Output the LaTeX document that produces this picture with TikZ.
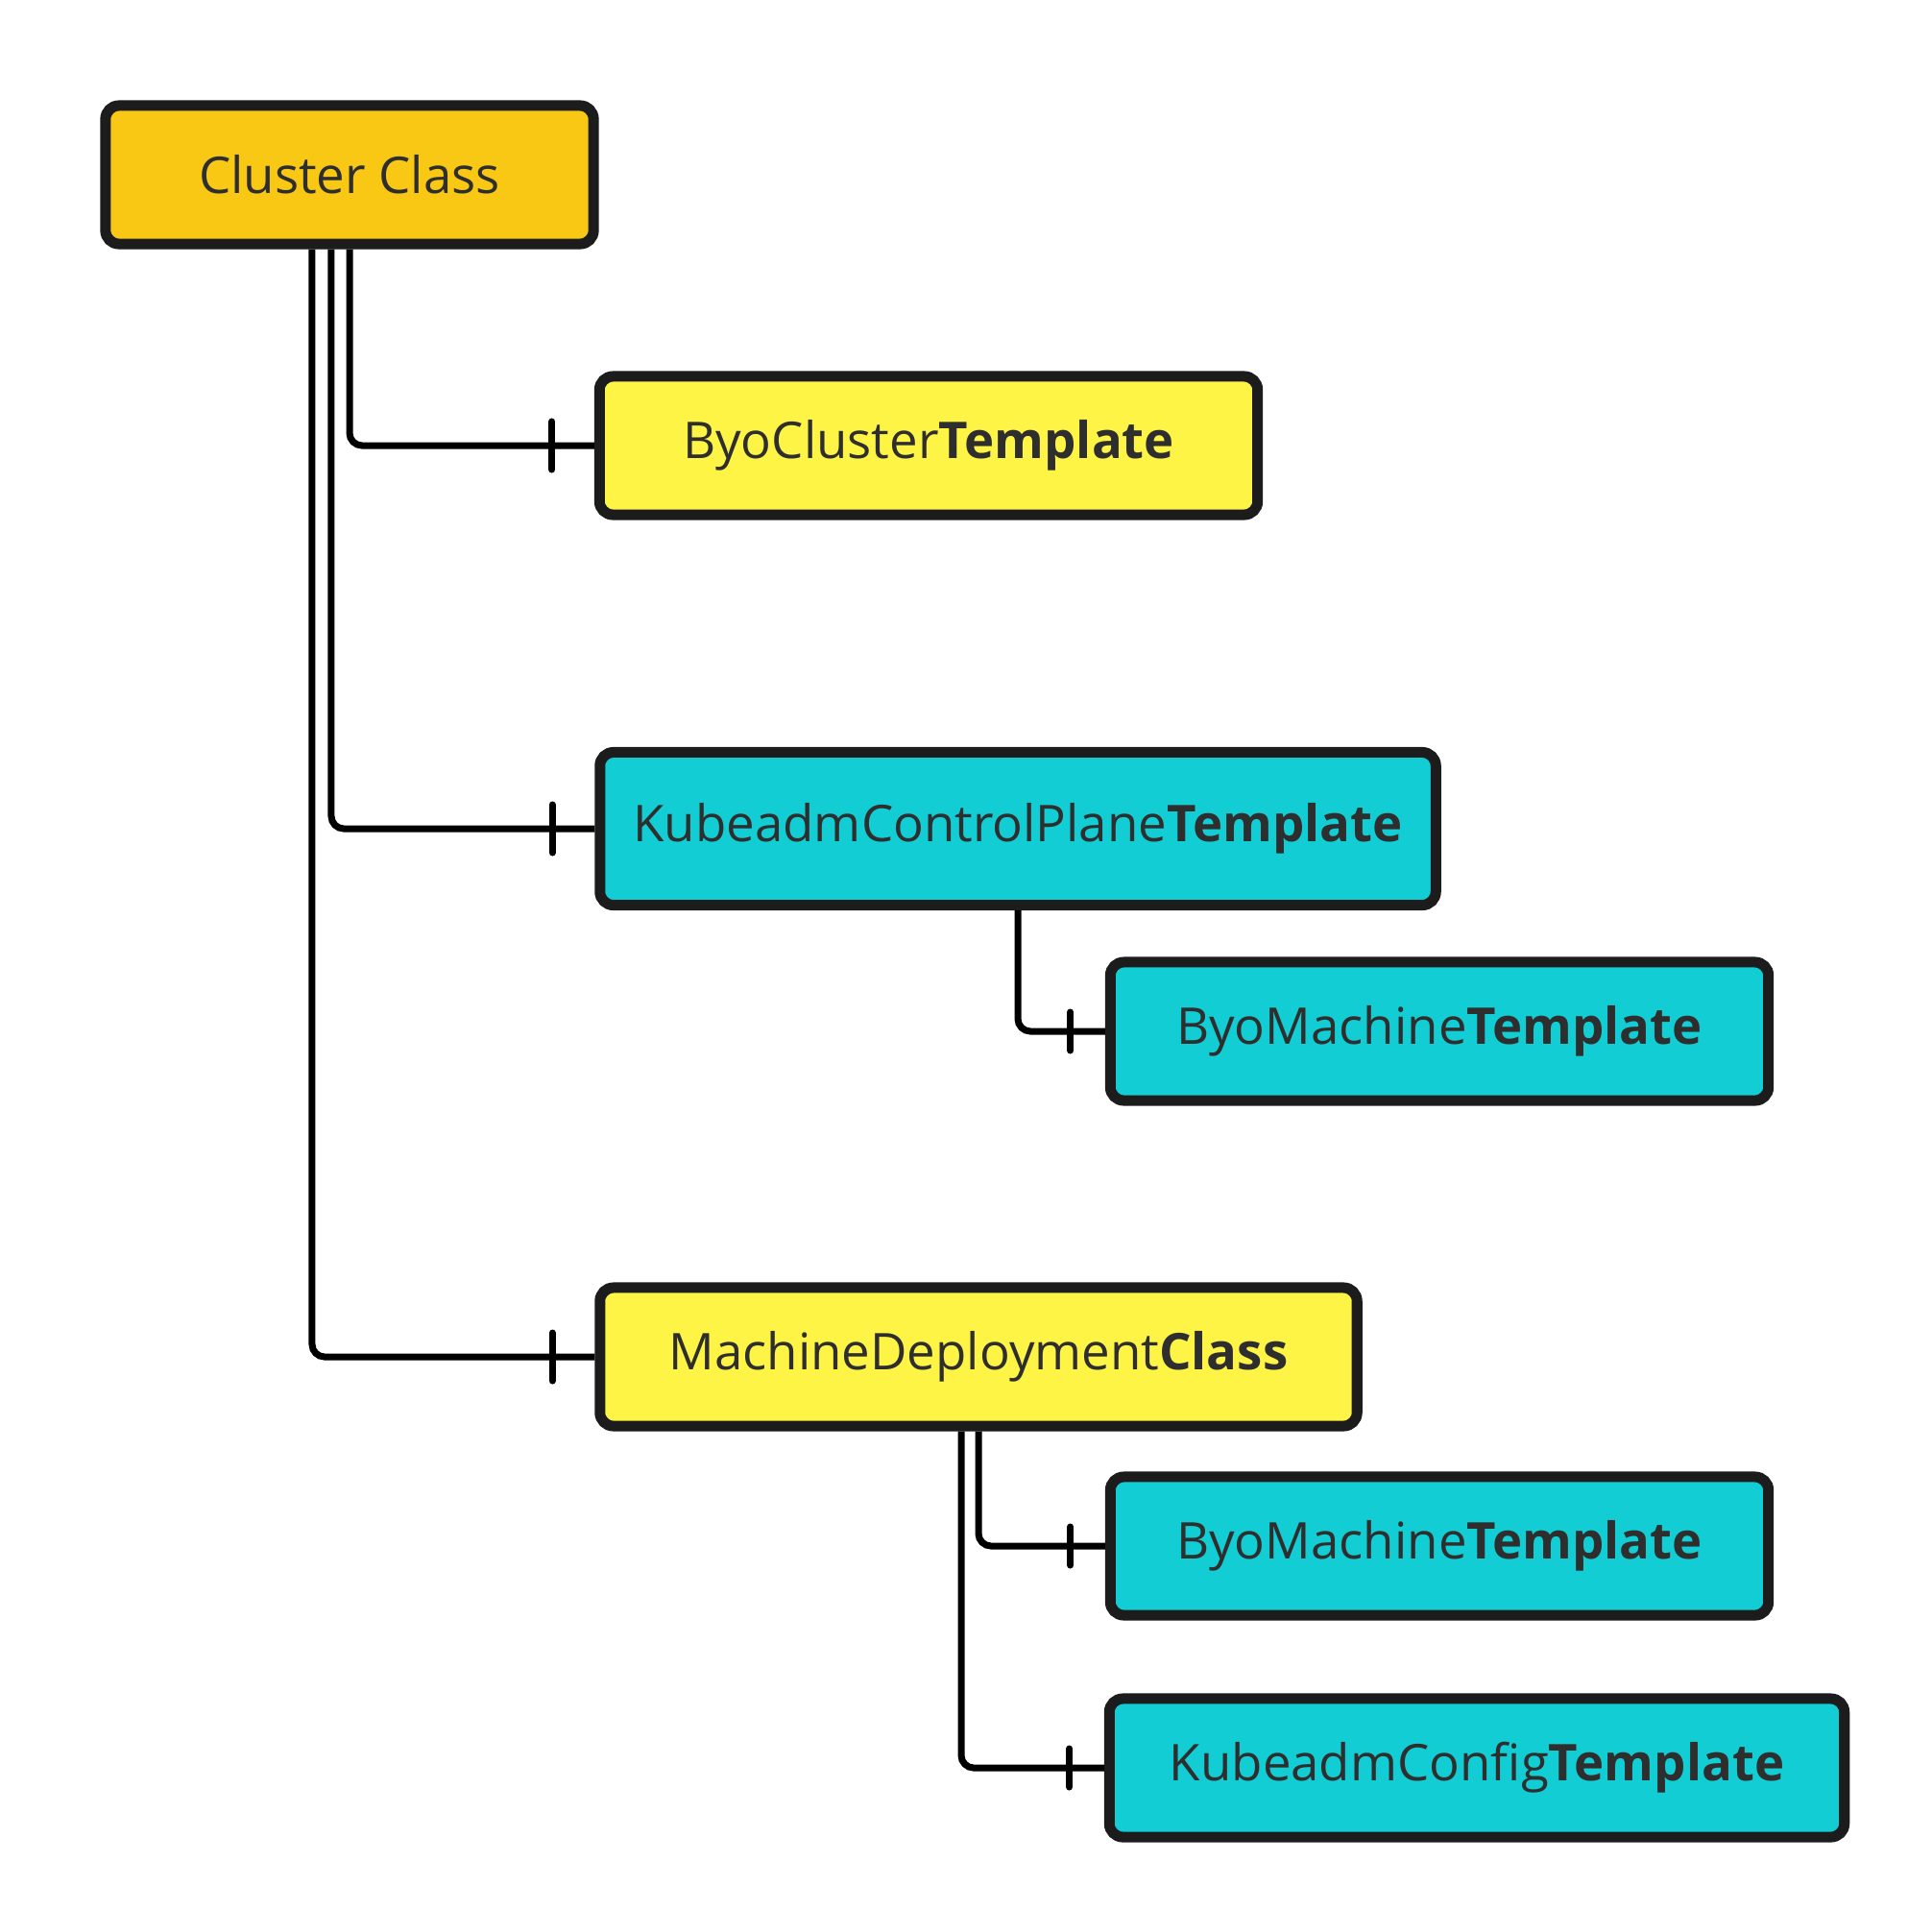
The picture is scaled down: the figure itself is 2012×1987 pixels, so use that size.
\documentclass[tikz,border=0pt]{standalone}
\usepackage{fontspec}
\setmainfont{Open Sans}
\usetikzlibrary{decorations.markings}
\definecolor{ink}{HTML}{1C1C1C}
\definecolor{txt}{HTML}{2E2E2E}
\definecolor{gold}{HTML}{F8C814}
\definecolor{lemon}{HTML}{FEF445}
\definecolor{teal}{HTML}{12CDD4}
\tikzset{
  every node/.style={font=\fontsize{15}{18}\selectfont, text=txt},
  box/.style={draw=ink, line width=0.11cm, rounded corners=0.14cm, align=center,
              minimum width=6.85cm, minimum height=1.44cm},
  goldbox/.style={box, fill=gold},
  lemonbox/.style={box, fill=lemon},
  tealbox/.style={box, fill=teal},
  conn/.style={draw=black, line width=0.07cm, rounded corners=0.13cm},
  tick/.style={postaction={decorate, decoration={markings,
      mark=at position -#1 with {\draw[line width=0.07cm, line cap=round] (0,-0.25cm) -- (0,0.25cm);}}}},
  smalltick/.style={postaction={decorate, decoration={markings,
      mark=at position -#1 with {\draw[line width=0.07cm, line cap=round] (0,-0.2cm) -- (0,0.2cm);}}}},
}

\begin{document}
\begin{tikzpicture}[x=0.01cm, y=-0.01cm]
\useasboundingbox (0,0) rectangle (2012,1987);

% --- boxes ---
\node[goldbox, minimum width=5.08cm] (cc) at (364,182) {Cluster Class};
\node[lemonbox] (bct) at (967,464) {ByoCluster\textbf{Template}};
\node[tealbox, minimum width=8.7cm, minimum height=1.59cm] (kcpt) at (1060,863) {KubeadmControlPlane\textbf{Template}};
\node[tealbox] (bmtcp) at (1499,1074) {ByoMachine\textbf{Template}};
\node[lemonbox, minimum width=7.88cm] (mdc) at (1019,1413) {MachineDeployment\textbf{Class}};
\node[tealbox] (bmtmd) at (1499,1610) {ByoMachine\textbf{Template}};
\node[tealbox, minimum width=7.65cm] (kct) at (1538,1841) {KubeadmConfig\textbf{Template}};

% --- links from the cluster class ---
\draw[conn, tick=0.44cm] (cc.south) |- (bct.west);
\draw[conn, tick=0.44cm] ([xshift=-0.19cm]cc.south) |- (kcpt.west);
\draw[conn, tick=0.44cm] ([xshift=-0.39cm]cc.south) |- (mdc.west);

% --- links to the machine templates ---
\draw[conn, smalltick=0.36cm] (kcpt.south) |- (bmtcp.west);
\draw[conn, smalltick=0.36cm] (mdc.south) |- (bmtmd.west);
\draw[conn, smalltick=0.36cm] ([xshift=-0.18cm]mdc.south) |- (kct.west);

\end{tikzpicture}
\end{document}
